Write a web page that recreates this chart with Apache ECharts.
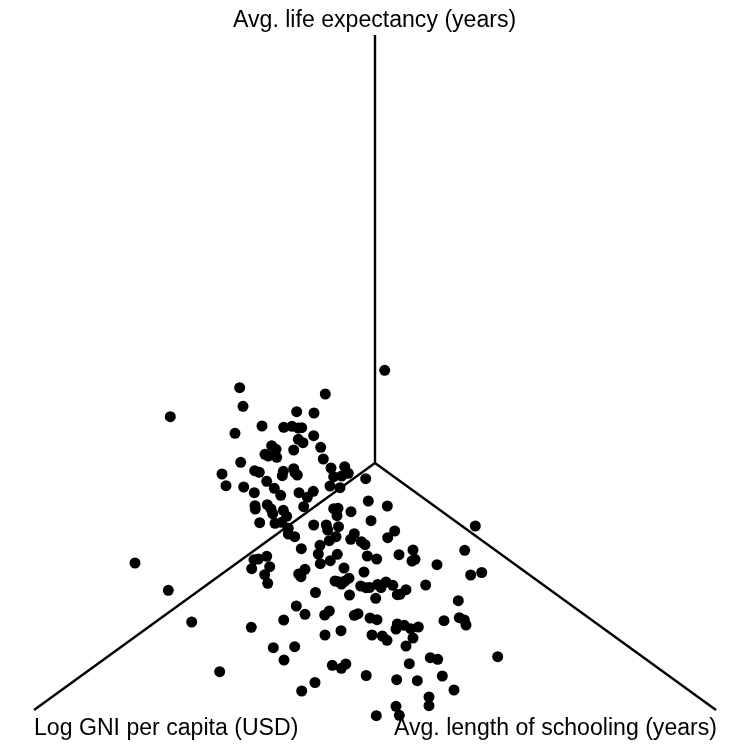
<!DOCTYPE html>
<html>
<head>
    <meta charset="utf-8">
    <title>Radial projection</title>
    <script src="https://cdn.jsdelivr.net/npm/echarts@6/dist/echarts.min.js"></script>
    <style>
        html, body { margin: 0; padding: 0; background: #fff; }
        #main { width: 750px; height: 750px; }
    </style>
</head>
<body>
<div id="main"></div>
<script>
    // projected country positions, origin at the hub of the three axes
    var pointX = [
        -204.7, -135.3, -132, -49.7, -78.3, -61, -113, -91.3, -83, -76.7,
        -73.3, -140, -61.3, -76.7, -72, -103.3, -99, -81.3, -54.3, -110,
        -106.7, -98.3, -51.7, -134.3, -44, -30.3, -26.7, -33.3, -41.3, -120.3,
        -115.7, -91.7, -92.7, -81.3, -80, -77.7, -153, -108.3, -9.3, -149,
        -131.3, -100.7, -45, -35, -120.7, -94.3, -76, -61.7, -67.7, -6.7,
        -120, -119.7, -107.7, -104, -102.3, -91.7, -88.3, -71.3, -41.3, -37,
        -38, -24, -4, -115.3, -100, -93.3, -61.3, -48.7, -47.3, -36.5,
        -86.7, -86.7, -80.3, -73.7, -55, -56.7, -45.7, -39, -20.7, -24.3,
        -13.7, -10, -37.7, -44.7, -54.7, -7.7, -108.3, -116.7, -121, -105.3,
        -123.3, -110.3, -107.3, -240, -206.7, -183.3, -123.7, -91.3, -78.7, -70,
        -59.5, -31, -11, -70, -76.3, -74, -40, -36.7, -33.5, -30,
        -26, -25.5, -14.3, -9, -5.5, -45.7, -50.3, -17, -20.7, -5,
        -34, -50, -3, -101.7, -80.3, -91, -155.3, -42.7, -33.7, -29.2,
        -8.8, -60, -73.3, 9.7, 12.3, 19.7, 12.7, 1.7, 24, 38,
        40, 37, 62, 89.7, 100.3, 95.7, 106.7, 2.7, 11, 6,
        17.8, 31, 50.7, 22.3, 25, 0.7, 83.3, 2, 22.3, 29.3,
        35.7, 43.3, 21, 69, 84.3, 89.3, 91, 38, 31, 7.3,
        12, 55.3, 62.7, 34.3, 122.7, 21.7, 42.3, 67.3, 79, 54,
        54, 21, 24.3, 1.3
    ];
    var pointY = [
        46.3, 75.3, 56.7, 69, 51.3, 50, 37, 35.7, 36.7, 35,
        35.3, 29.7, 27.3, 23.7, 20.3, 17.3, 13.7, 13, 15.7, 8.7,
        7, 5.7, 4, 0.7, -5, -3.7, -10.3, -13, -13.7, -7.7,
        -9.3, -8.3, -12.7, -5.7, -9.7, -12, -11, -18.3, -15.7, -22.7,
        -24, -25.3, -23, -24.7, -29.7, -32.3, -29.7, -28.3, -34.3, -38,
        -42.7, -46, -41.7, -46, -50.7, -47.3, -53.3, -43.7, -45.7, -45.3,
        -52.7, -48.7, -57.7, -59.7, -60.3, -59.3, -62, -62, -67, -63.7,
        -65.3, -71, -73.7, -85.7, -82.3, -91, -77.7, -73.7, -70.7, -76.3,
        -78.7, -81.7, -91.3, -97.7, -100.7, -93, -93.3, -96, -96.7, -103.7,
        -105.7, -111.7, -120.3, -100, -127.3, -159, -164.3, -157, -143, -151.3,
        -129.5, -105, -109, -106.3, -111, -113.7, -118, -118.7, -121, -118,
        -115.2, -132, -123, -124.7, -124.5, -148, -152, -150.7, -152.3, -155,
        -167.7, -172, -172, -184.7, -183.7, -197, -208.7, -202.3, -205.3, -201,
        -212.5, -219.5, -228, 92.7, -43, -68, -74.7, -96, -91.7, -87,
        -96.3, -98, -101.7, -87.3, -63, -112, -109.5, -121.5, -119, -124.5,
        -122.3, -126.7, -122, -131.7, -131.3, -135.3, -137.7, -156.7, -161, -162.3,
        -165.7, -164, -166, -157.7, -154.7, -157, -162, -175, -183, -173,
        -177.3, -194.7, -196.3, -200.7, -193.7, -216.7, -217.7, -213, -227, -234,
        -242.7, -243.3, -252.3, -252.7
    ];
    // where each axis ends, seen from the hub
    var axisEndX = [0, -341, 341];
    var axisEndY = [428, -247, -247];
    var axisNames = ['Avg. life expectancy (years)', 'Log GNI per capita (USD)', 'Avg. length of schooling (years)'];

    var points = pointX.map(function (x, i) { return [x, pointY[i]]; });

    var axisSeries = axisEndX.map(function (x, i) {
        return {
            type: 'line',
            data: [[0, 0], [x, axisEndY[i]]],
            symbol: 'none',
            silent: true,
            animation: false,
            lineStyle: { color: '#000', width: 2.4 },
            z: 1
        };
    });

    var labelFont = { fontFamily: 'Liberation Sans', fontSize: 23.1, fill: '#000' };

    var myChart = echarts.init(document.getElementById('main'), null, { renderer: 'canvas' });
    myChart.setOption({
        backgroundColor: '#fff',
        animation: false,
        grid: { left: 0, right: 0, top: 0, bottom: 0 },
        xAxis: { type: 'value', min: -375, max: 375, show: false },
        yAxis: { type: 'value', min: -287, max: 463, show: false },
        series: axisSeries.concat([{
            type: 'scatter',
            data: points,
            symbol: 'circle',
            symbolSize: 11,
            itemStyle: { color: '#000', opacity: 1 },
            z: 2
        }]),
        graphic: [
            { type: 'text', left: 233, top: 9, style: Object.assign({ text: axisNames[0] }, labelFont) },
            { type: 'text', left: 34, top: 717, style: Object.assign({ text: axisNames[1] }, labelFont) },
            { type: 'text', right: 33, top: 717, style: Object.assign({ text: axisNames[2] }, labelFont) }
        ]
    });
</script>
</body>
</html>
